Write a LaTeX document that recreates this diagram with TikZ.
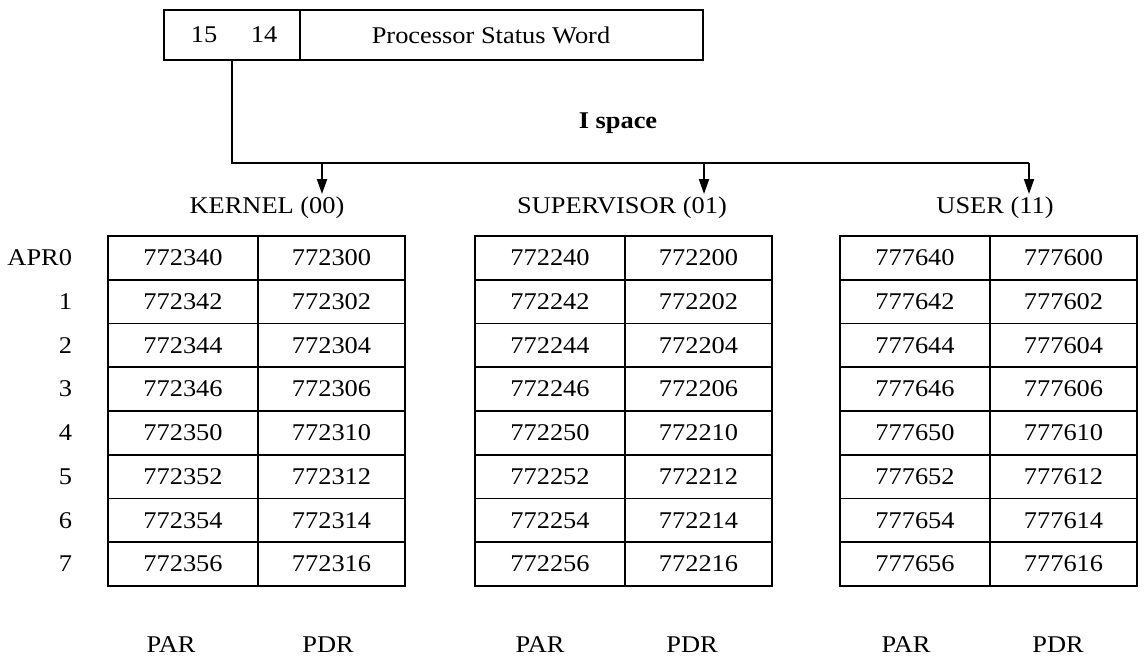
\documentclass[tikz,border=0pt]{standalone}
\usepackage{fontspec}
\setmainfont[FakeStretch=1.1]{Liberation Serif}
\usetikzlibrary{arrows.meta}
\begin{document}
\begin{tikzpicture}[x=1pt,y=-1pt,
  font=\fontsize{24}{28}\selectfont,
  line width=1.9pt,
  box/.style={draw, minimum height=50pt, inner sep=0pt},
  cell/.style={draw, minimum height=43.75pt, inner sep=0pt},
  lbl/.style={inner sep=0pt},
  wire/.style={line width=1.9pt},
  arr/.style={line width=1.9pt, -{Triangle[length=15pt,width=10pt]}}]
\useasboundingbox (0,0) rectangle (1145,667);

% Processor status word
\node[box, minimum width=136pt] (bits) at (232,35) {};
\node[lbl] (b15) at (204,35) {15};
\node[lbl] (b14) at (264,35) {14};
\node[box, minimum width=403pt] (psw) at (501.5,35) {};
\node[lbl] (pswt) at (491,35) {Processor Status Word};

\node[lbl, font=\fontsize{24}{28}\selectfont\bfseries] (ispace) at (618,123) {I space};

% bus
\coordinate (j1) at (322,163);
\coordinate (j2) at (704,163);
\coordinate (j3) at (1029,163);
\coordinate (t1) at (322,194);
\coordinate (t2) at (704,194);
\coordinate (t3) at (1029,194);
\draw[wire] (bits.south) |- (j3);
\draw[arr] (j1) -- (t1);
\draw[arr] (j2) -- (t2);
\draw[arr] (j3) -- (t3);

% mode labels
\node[lbl] (kl) at (267,208) {KERNEL (00)};
\node[lbl] (sl) at (622,208) {SUPERVISOR (01)};
\node[lbl] (ul) at (995,208) {USER (11)};

% tables
\foreach \tb/\xx/\pre in {k/108/7723,s/475/7722,u/840/7776}{
  \foreach \i/\sa/\sb in {0/40/00,1/42/02,2/44/04,3/46/06,4/50/10,5/52/12,6/54/14,7/56/16}{
    \node[cell, minimum width=150pt] (\tb-par-\i) at ({\xx+75},{236+43.75*(\i+0.5)}) {\pre\sa};
    \node[cell, minimum width=147pt] (\tb-pdr-\i) at ({\xx+223.5},{236+43.75*(\i+0.5)}) {\pre\sb};
  }
}

% APR labels
\node[lbl, anchor=east] (apr0) at (73,{236+43.75*0.5}) {APR0};
\foreach \i in {1,...,7}{
  \node[lbl, anchor=east] (apr\i) at (73,{236+43.75*(\i+0.5)}) {\i};
}

% column labels
\node[lbl] (kpar) at (171,645) {PAR};
\node[lbl] (kpdr) at (328,645) {PDR};
\node[lbl] (spar) at (540,645) {PAR};
\node[lbl] (spdr) at (692,645) {PDR};
\node[lbl] (upar) at (906,645) {PAR};
\node[lbl] (updr) at (1058,645) {PDR};
\end{tikzpicture}
\end{document}
